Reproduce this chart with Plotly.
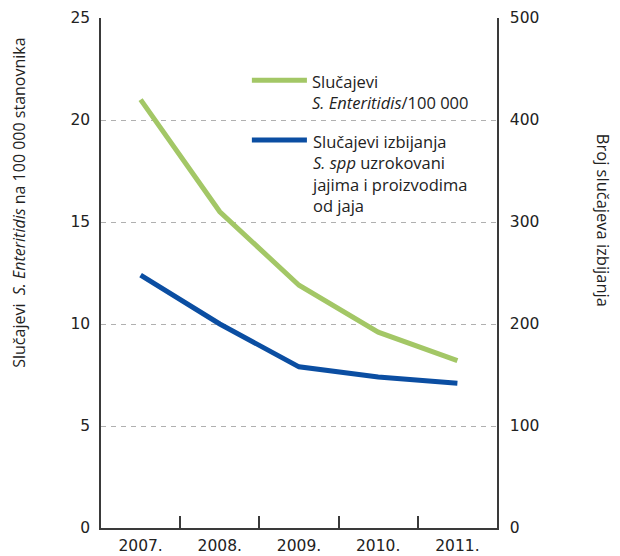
import plotly.graph_objects as go

years = ["2007.", "2008.", "2009.", "2010.", "2011."]
enteritidis_rate = [21.0, 15.5, 11.9, 9.6, 8.2]
outbreaks = [248, 200, 158, 148, 142]

left_ticks = [0, 5, 10, 15, 20, 25]
right_ticks = [0, 100, 200, 300, 400, 500]

GREEN = "#A3C766"
BLUE = "#0B4EA2"
AXIS = "#3a3a3a"
GRID = "#b0b0b0"
TICKFONT = dict(family="DejaVu Sans", size=15.5, color="#222")
TXTFONT = dict(family="Open Sans", size=16.5, color="#222")

fig = go.Figure()
fig.add_trace(go.Scatter(x=years, y=enteritidis_rate, mode="lines",
                         line=dict(color=GREEN, width=5), yaxis="y",
                         showlegend=False))
fig.add_trace(go.Scatter(x=years, y=outbreaks, mode="lines",
                         line=dict(color=BLUE, width=5), yaxis="y2",
                         showlegend=False))

# page body has an 8px margin, so the figure is sized to fit the window
fig.update_layout(
    width=612, height=548,
    margin=dict(l=93, r=123, t=10, b=28, autoexpand=False),
    paper_bgcolor="white", plot_bgcolor="white",
    xaxis=dict(type="category", tickson="boundaries", ticks="inside", ticklen=12,
               tickcolor=AXIS, tickwidth=1.5, showline=True, linecolor=AXIS, linewidth=1.5,
               showgrid=False, tickfont=TICKFONT, range=[-0.5, 4.5], zeroline=False,
               automargin=False, ticklabelstandoff=3),
    yaxis=dict(range=[0, 25], tickvals=left_ticks, showline=True, linecolor=AXIS,
               linewidth=1.5, showgrid=True, gridcolor=GRID, griddash="5px,5px",
               gridwidth=1, ticks="", tickfont=TICKFONT, zeroline=False,
               ticklabelstandoff=6, automargin=False),
    yaxis2=dict(range=[0, 500], tickvals=right_ticks, overlaying="y", side="right",
                showline=True, linecolor=AXIS, linewidth=1.5, showgrid=False,
                ticks="", tickfont=TICKFONT, zeroline=False, ticklabelstandoff=8,
                automargin=False),
)

# legend (drawn manually to match the long sample lines)
legend_items = [
    (GREEN, 0.878, "Slučajevi<br><i>S. Enteritidis</i>/100 000"),
    (BLUE, 0.761, "Slučajevi izbijanja<br><i>S. spp</i> uzrokovani<br>jajima i proizvodima<br>od jaja"),
]
for color, yy, label in legend_items:
    fig.add_shape(type="line", xref="paper", yref="paper", x0=0.381, x1=0.520,
                  y0=yy, y1=yy, line=dict(color=color, width=5))
    fig.add_annotation(xref="paper", yref="paper", x=0.527, y=yy + 0.024,
                       xanchor="left", yanchor="top", align="left",
                       text=label, showarrow=False, font=TXTFONT)

fig.add_annotation(xref="paper", yref="paper", x=-0.208, y=0.637, xanchor="center",
                   yanchor="middle", textangle=-90, showarrow=False,
                   text="Slučajevi&nbsp; <i>S. Enteritidis</i> na 100 000 stanovnika",
                   font=dict(family="Open Sans", size=16, color="#222"))
fig.add_annotation(xref="paper", yref="paper", x=1.268, y=0.604, xanchor="center",
                   yanchor="middle", textangle=90, showarrow=False,
                   text="Broj slučajeva izbijanja",
                   font=dict(family="Open Sans", size=16.5, color="#222"))

fig.write_html("out.html")
